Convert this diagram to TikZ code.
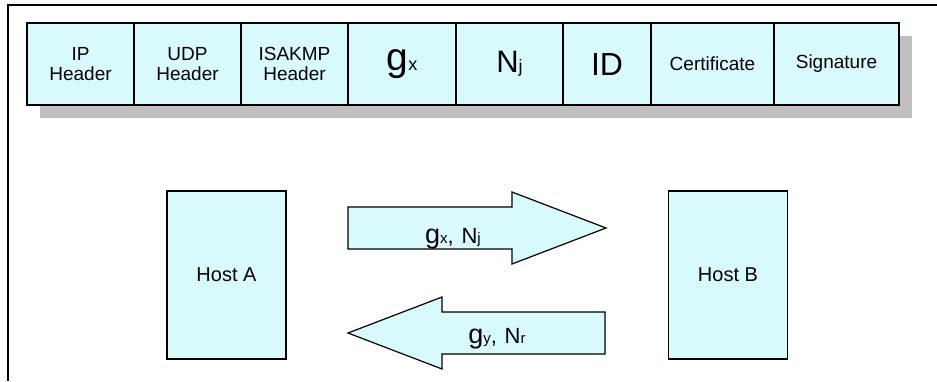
\documentclass[tikz,border=0pt]{standalone}
\usepackage{fontspec}
\setmainfont{Liberation Sans}
\usetikzlibrary{positioning}
\definecolor{pktfill}{RGB}{217,250,253}
\definecolor{shadowgray}{RGB}{192,192,192}
\tikzset{
  frameln/.style={line width=1.3pt},
  cell/.style={draw, fill=pktfill, line width=1.2pt, minimum height=82pt,
    inner sep=0pt, outer sep=0pt, align=center, font=\fontsize{19}{20.5}\selectfont},
  host/.style={draw, fill=pktfill, line width=1.2pt, minimum width=119pt,
    minimum height=168pt, font=\fontsize{20}{24}\selectfont},
  msgarrow/.style={draw, fill=pktfill, line width=1.2pt, line join=miter},
  msglabel/.style={font=\fontsize{22}{24}\selectfont, inner sep=0pt, anchor=base},
}
% field symbol: big letter with small index on the baseline
\newcommand{\fieldsym}[3]{{\fontsize{#1}{#1}\selectfont #2}{\fontsize{18}{18}\selectfont #3}}
\newcommand{\msgsym}[3]{{\fontsize{#1}{#1}\selectfont #2}{\fontsize{15}{15}\selectfont #3}}

\begin{document}
\begin{tikzpicture}[x=1pt,y=-1pt]
  \useasboundingbox (0,0) rectangle (937,381);
  % Frame
  \draw[frameln] (937,5) -- (8,5) -- (8,381);
  % Packet shadow
  \fill[shadowgray] (40,36) rectangle (912,118);
  % Packet fields
  \node[cell, minimum width=107pt, anchor=north west] (iphdr) at (27,23) {IP\\Header};
  \node[cell, minimum width=107pt, right=0pt of iphdr] (udphdr) {UDP\\Header};
  \node[cell, minimum width=107pt, right=0pt of udphdr] (isakmp) {ISAKMP\\Header};
  \node[cell, minimum width=108pt, right=0pt of isakmp] (gx) {\fieldsym{39}{g}{x}};
  \node[cell, minimum width=107pt, right=0pt of gx] (nj) {\fieldsym{31}{N}{j}};
  \node[cell, minimum width=88pt, right=0pt of nj] (id) {\fontsize{32}{32}\selectfont ID};
  \node[cell, minimum width=123pt, right=0pt of id] (cert) {Certificate};
  \node[cell, minimum width=125pt, right=0pt of cert] (sig) {Signature};
  % Hosts
  \node[host] (hosta) at (226.5,275) {Host A};
  \node[host] (hostb) at (728,275) {Host B};
  % Messages
  \draw[msgarrow] (348,207) -- (512,207) -- (512,192) -- (606,228)
    -- (512,264) -- (512,249) -- (348,249) -- cycle;
  \node[msglabel] (msgout) at (453,243) {\msgsym{27}{g}{x},\hspace{0.35em}\msgsym{22}{N}{j}};
  \draw[msgarrow] (605,312) -- (442,312) -- (442,297) -- (348,333)
    -- (442,369) -- (442,354) -- (605,354) -- cycle;
  \node[msglabel] (msgin) at (497,343) {\msgsym{27}{g}{y},\hspace{0.35em}\msgsym{22}{N}{r}};
\end{tikzpicture}
\end{document}
